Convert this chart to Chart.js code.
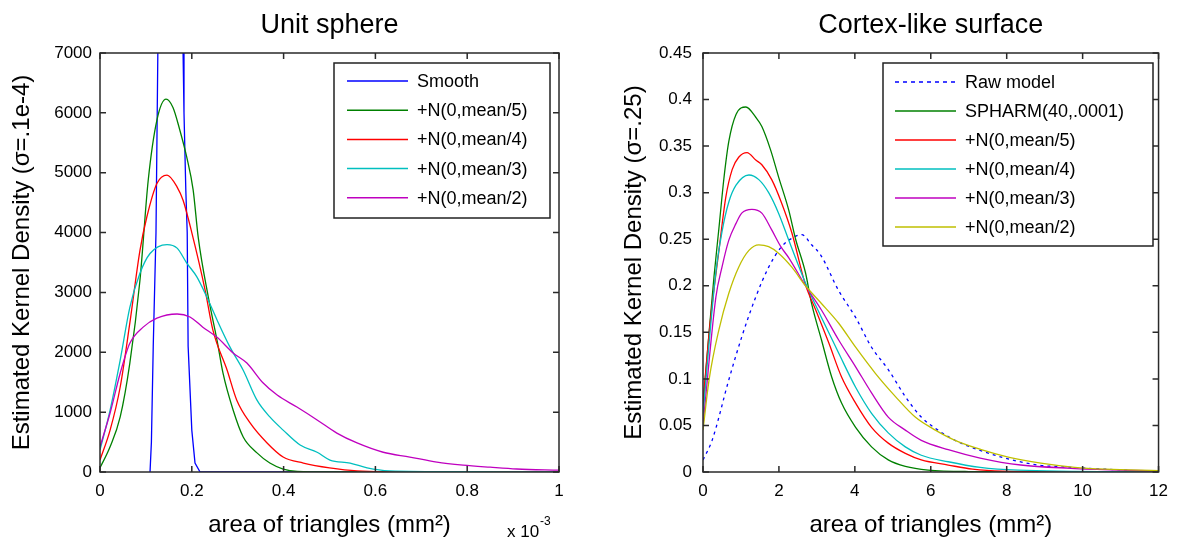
<!DOCTYPE html>
<html>
<head>
<meta charset="utf-8">
<script src="https://cdn.jsdelivr.net/npm/chart.js@4.4.0/dist/chart.umd.min.js"></script>
<style>
    html, body { margin: 0; padding: 0; background: #fff; }
    #wrap { position: relative; width: 1177px; height: 540px; overflow: hidden; }
    #sphereChart { position: absolute; left: 0; top: 0; }
    #cortexChart { position: absolute; left: 590px; top: 0; }
</style>
</head>
<body>
<div id="wrap">
    <canvas id="sphereChart" width="590" height="540"></canvas>
    <canvas id="cortexChart" width="587" height="540"></canvas>
</div>
<script>
// ---- Unit sphere (x in units of 1e-3 mm^2) ----
const sphereTitle = 'Unit sphere';
const sphereYTitle = 'Estimated Kernel Density (σ=.1e-4)';
const sphereLabels = ['Smooth', '+N(0,mean/5)', '+N(0,mean/4)', '+N(0,mean/3)', '+N(0,mean/2)'];

const smoothX = [0.109, 0.112, 0.116, 0.122, 0.126, 0.15, 0.181, 0.183, 0.187, 0.19, 0.192, 0.2, 0.207, 0.218, 0.3, 0.4, 0.56];
const smoothY = [0, 500, 2100, 4000, 7000, 16000, 7000, 6000, 4700, 4000, 2100, 700, 150, 0, 0, 0, 0];

const sMean5X = [0, 0.022, 0.044, 0.065, 0.087, 0.105, 0.124, 0.144, 0.159, 0.174, 0.189, 0.203, 0.214, 0.236, 0.255, 0.268, 0.29, 0.312, 0.342, 0.37, 0.399, 0.43, 0.5, 0.7, 1.0];
const sMean5Y = [70, 420, 920, 1820, 3200, 4870, 5880, 6230, 6090, 5710, 5260, 4710, 3920, 2920, 2200, 1650, 1035, 585, 320, 150, 50, 10, 0, 0, 0];

const sMean4X = [0, 0.022, 0.044, 0.065, 0.087, 0.102, 0.124, 0.146, 0.168, 0.181, 0.2, 0.229, 0.246, 0.277, 0.298, 0.327, 0.364, 0.399, 0.443, 0.5, 0.56, 0.7, 1.0];
const sMean4Y = [200, 700, 1420, 2490, 3700, 4260, 4820, 4960, 4760, 4540, 4000, 3040, 2370, 1700, 1200, 820, 485, 250, 150, 70, 20, 0, 0];

const sMean3X = [0, 0.022, 0.044, 0.065, 0.087, 0.109, 0.146, 0.168, 0.189, 0.211, 0.233, 0.255, 0.283, 0.312, 0.342, 0.37, 0.399, 0.436, 0.473, 0.501, 0.545, 0.582, 0.63, 0.8, 1.0];
const sMean3Y = [370, 1035, 1870, 2750, 3320, 3650, 3800, 3740, 3490, 3260, 2920, 2540, 2090, 1700, 1200, 920, 700, 450, 330, 200, 150, 70, 20, 5, 0];

const sMean2X = [0, 0.022, 0.044, 0.065, 0.094, 0.124, 0.168, 0.196, 0.224, 0.255, 0.29, 0.32, 0.355, 0.386, 0.429, 0.473, 0.516, 0.56, 0.617, 0.675, 0.734, 0.791, 0.85, 0.908, 1.0];
const sMean2Y = [420, 985, 1650, 2150, 2420, 2570, 2640, 2590, 2420, 2250, 1990, 1820, 1490, 1285, 1085, 870, 650, 485, 330, 250, 165, 115, 80, 50, 30];

const sphereXTicks = [0, 0.2, 0.4, 0.6, 0.8, 1];
const sphereYTicks = [0, 1000, 2000, 3000, 4000, 5000, 6000, 7000];

// ---- Cortex-like surface ----
const cortexTitle = 'Cortex-like surface';
const cortexYTitle = 'Estimated Kernel Density (σ=.25)';
const cortexLabels = ['Raw model', 'SPHARM(40,.0001)', '+N(0,mean/5)', '+N(0,mean/4)', '+N(0,mean/3)', '+N(0,mean/2)'];

const rawX = [0, 0.24, 0.68, 1.02, 1.39, 1.73, 2.07, 2.34, 2.6, 2.86, 3.1, 3.57, 4.02, 4.44, 4.88, 5.33, 5.75, 6.19, 6.64, 7.24, 7.95, 8.82, 9.69, 10.6, 11.2];
const rawY = [0.013, 0.034, 0.099, 0.145, 0.188, 0.22, 0.242, 0.251, 0.255, 0.244, 0.233, 0.195, 0.166, 0.134, 0.11, 0.081, 0.059, 0.045, 0.034, 0.024, 0.015, 0.0075, 0.005, 0.003, 0.002];

const spharmX = [0, 0.16, 0.29, 0.42, 0.55, 0.68, 0.87, 1.13, 1.39, 1.55, 1.78, 1.99, 2.26, 2.44, 2.7, 2.86, 3.12, 3.39, 3.65, 4.02, 4.44, 4.88, 5.33, 5.93, 7, 12];
const spharmY = [0.07, 0.15, 0.21, 0.262, 0.315, 0.355, 0.384, 0.392, 0.381, 0.371, 0.346, 0.317, 0.281, 0.25, 0.214, 0.181, 0.142, 0.102, 0.074, 0.048, 0.027, 0.013, 0.006, 0.002, 0.0005, 0];

const cMean5X = [0, 0.2, 0.42, 0.6, 0.77, 0.94, 1.16, 1.39, 1.55, 1.81, 2.07, 2.34, 2.7, 2.97, 3.31, 3.65, 4.02, 4.44, 4.88, 5.33, 5.75, 6.46, 7.1, 7.9, 12];
const cMean5Y = [0.075, 0.165, 0.238, 0.295, 0.325, 0.338, 0.343, 0.335, 0.33, 0.314, 0.289, 0.257, 0.201, 0.174, 0.139, 0.102, 0.074, 0.048, 0.031, 0.02, 0.013, 0.0075, 0.003, 0.001, 0];

const cMean4X = [0, 0.1, 0.34, 0.5, 0.68, 0.87, 1.21, 1.47, 1.73, 1.99, 2.26, 2.7, 3.12, 3.57, 4.02, 4.44, 4.88, 5.33, 5.75, 6.46, 7.3, 8.3, 12];
const cMean4Y = [0.06, 0.11, 0.215, 0.258, 0.29, 0.308, 0.319, 0.314, 0.3, 0.278, 0.249, 0.203, 0.166, 0.128, 0.091, 0.063, 0.042, 0.027, 0.018, 0.011, 0.005, 0.002, 0];

const cMean3X = [0, 0.34, 0.5, 0.68, 0.87, 1.02, 1.29, 1.55, 1.81, 2.05, 2.26, 2.7, 3.12, 3.57, 4.02, 4.44, 4.88, 5.33, 5.75, 6.46, 7.3, 8.37, 9.69, 11, 12];
const cMean3Y = [0.05, 0.188, 0.22, 0.249, 0.267, 0.278, 0.282, 0.278, 0.26, 0.242, 0.23, 0.2, 0.174, 0.142, 0.113, 0.085, 0.059, 0.045, 0.034, 0.024, 0.015, 0.0075, 0.004, 0.002, 0.001];

const cMean2X = [0, 0.16, 0.42, 0.68, 0.94, 1.21, 1.47, 1.73, 1.99, 2.34, 2.7, 3.12, 3.57, 4.02, 4.54, 5.07, 5.59, 6.12, 6.64, 7.33, 8.04, 8.9, 9.79, 10.6, 12];
const cMean2Y = [0.045, 0.099, 0.153, 0.192, 0.22, 0.238, 0.244, 0.242, 0.235, 0.22, 0.2, 0.181, 0.16, 0.134, 0.106, 0.081, 0.059, 0.045, 0.034, 0.024, 0.016, 0.0095, 0.005, 0.003, 0.0015];

const cortexXTicks = [0, 2, 4, 6, 8, 10, 12];
const cortexYTicks = [0, 0.05, 0.1, 0.15, 0.2, 0.25, 0.3, 0.35, 0.4, 0.45];

const xTitle = 'area of triangles (mm²)';
const FONT = '"Liberation Sans", Arial, Helvetica, sans-serif';

function toPoints(xs, ys) {
    return xs.map((x, i) => ({ x: x, y: ys[i] }));
}

function makeSet(label, xs, ys, color, extra) {
    return Object.assign({
        label: label,
        data: toPoints(xs, ys),
        borderColor: color,
        backgroundColor: color,
        borderWidth: 1.3,
        pointRadius: 0,
        fill: false,
        cubicInterpolationMode: 'monotone'
    }, extra || {});
}

// Box with inward ticks on all four sides, MATLAB style
const frameTicks = {
    id: 'frameTicks',
    afterDatasetsDraw(chart) {
        const { ctx, chartArea: a, scales: { x, y } } = chart;
        ctx.save();
        ctx.strokeStyle = '#2a2a2a';
        ctx.lineWidth = 1.5;
        ctx.beginPath();
        x.ticks.forEach(t => {
            const px = x.getPixelForValue(t.value);
            ctx.moveTo(px, a.bottom); ctx.lineTo(px, a.bottom - 6);
            ctx.moveTo(px, a.top); ctx.lineTo(px, a.top + 6);
        });
        y.ticks.forEach(t => {
            const py = y.getPixelForValue(t.value);
            ctx.moveTo(a.left, py); ctx.lineTo(a.left + 6, py);
            ctx.moveTo(a.right, py); ctx.lineTo(a.right - 6, py);
        });
        ctx.stroke();
        ctx.strokeRect(a.left, a.top, a.right - a.left, a.bottom - a.top);
        ctx.restore();
    }
};

const plotTitle = {
    id: 'plotTitle',
    afterDraw(chart, args, opts) {
        const { ctx, chartArea: a } = chart;
        ctx.save();
        ctx.fillStyle = '#000';
        ctx.font = '27px ' + FONT;
        ctx.textAlign = 'center';
        ctx.textBaseline = 'alphabetic';
        ctx.fillText(opts.text, (a.left + a.right) / 2, 33);
        if (opts.exponent) {
            ctx.textAlign = 'left';
            ctx.font = '17px ' + FONT;
            ctx.fillText('x 10', opts.exponent.x, opts.exponent.y);
            ctx.font = '12px ' + FONT;
            ctx.fillText('-3', opts.exponent.x + 33, opts.exponent.y - 12);
        }
        ctx.restore();
    }
};

const boxLegend = {
    id: 'boxLegend',
    afterDraw(chart, args, opts) {
        const { ctx } = chart;
        ctx.save();
        ctx.fillStyle = '#fff';
        ctx.fillRect(opts.left, opts.top, opts.width, opts.height);
        ctx.strokeStyle = '#222';
        ctx.lineWidth = 1.5;
        ctx.strokeRect(opts.left, opts.top, opts.width, opts.height);
        ctx.font = '18px ' + FONT;
        ctx.textBaseline = 'middle';
        ctx.textAlign = 'left';
        chart.data.datasets.forEach((ds, i) => {
            const y = opts.firstRow + i * opts.rowGap;
            ctx.strokeStyle = ds.borderColor;
            ctx.lineWidth = 1.5;
            ctx.setLineDash(ds.borderDash ? [4, 4] : []);
            ctx.beginPath();
            ctx.moveTo(opts.lineX, y);
            ctx.lineTo(opts.lineX + 61, y);
            ctx.stroke();
            ctx.setLineDash([]);
            ctx.fillStyle = '#000';
            ctx.fillText(ds.label, opts.lineX + 70, y + 1);
        });
        ctx.restore();
    }
};

function tickText(v) {
    return String(+Number(v).toFixed(4));
}

function buildChart(canvas, cfg) {
    return new Chart(canvas, {
        type: 'line',
        data: { datasets: cfg.datasets },
        options: {
            responsive: false,
            animation: false,
            layout: { padding: { left: 0, right: cfg.padRight, top: 53, bottom: 0 } },
            plugins: {
                legend: { display: false },
                tooltip: { enabled: false },
                plotTitle: { text: cfg.title, exponent: cfg.exponent },
                boxLegend: cfg.legend
            },
            scales: {
                x: {
                    type: 'linear',
                    min: cfg.xTicks[0],
                    max: cfg.xTicks[cfg.xTicks.length - 1],
                    afterBuildTicks: s => { s.ticks = cfg.xTicks.map(v => ({ value: v })); },
                    afterFit: s => { s.height = 540 - cfg.bottom; },
                    grid: { display: false, drawTicks: false },
                    border: { display: false },
                    ticks: { color: '#000', padding: 9, font: { size: 17, family: FONT }, maxRotation: 0, callback: tickText },
                    title: { display: true, text: xTitle, color: '#000', font: { size: 24, family: FONT }, padding: { top: 0, bottom: 0 } }
                },
                y: {
                    type: 'linear',
                    min: cfg.yTicks[0],
                    max: cfg.yTicks[cfg.yTicks.length - 1],
                    afterBuildTicks: s => { s.ticks = cfg.yTicks.map(v => ({ value: v })); },
                    afterFit: s => { s.width = cfg.left; },
                    grid: { display: false, drawTicks: false },
                    border: { display: false },
                    ticks: { color: '#000', padding: cfg.yTickPad, font: { size: 17, family: FONT }, callback: tickText },
                    title: { display: true, text: cfg.yTitle, color: '#000', font: { size: 24, family: FONT }, padding: { top: cfg.yTitlePad, bottom: 0 } }
                }
            }
        },
        plugins: [frameTicks, plotTitle, boxLegend]
    });
}

const sphereSets = [
    makeSet(sphereLabels[0], smoothX, smoothY, '#0000ff', { cubicInterpolationMode: 'default', tension: 0 }),
    makeSet(sphereLabels[1], sMean5X, sMean5Y, '#008000'),
    makeSet(sphereLabels[2], sMean4X, sMean4Y, '#ff0000'),
    makeSet(sphereLabels[3], sMean3X, sMean3Y, '#00bfbf'),
    makeSet(sphereLabels[4], sMean2X, sMean2Y, '#bf00bf')
];
sphereSets.forEach((ds, i) => { ds.order = sphereSets.length - i; });

buildChart(document.getElementById('sphereChart'), {
    datasets: sphereSets,
    title: sphereTitle,
    yTitle: sphereYTitle,
    xTicks: sphereXTicks,
    yTicks: sphereYTicks,
    left: 100,
    padRight: 31,
    bottom: 472,
    yTickPad: 8,
    yTitlePad: 8,
    exponent: { x: 507, y: 537 },
    legend: { left: 334, top: 63, width: 216, height: 155, lineX: 347, firstRow: 81, rowGap: 29.2 }
});

const cortexSets = [
    makeSet(cortexLabels[0], rawX, rawY, '#0000ff', { borderDash: [3, 4] }),
    makeSet(cortexLabels[1], spharmX, spharmY, '#008000'),
    makeSet(cortexLabels[2], cMean5X, cMean5Y, '#ff0000'),
    makeSet(cortexLabels[3], cMean4X, cMean4Y, '#00bfbf'),
    makeSet(cortexLabels[4], cMean3X, cMean3Y, '#bf00bf'),
    makeSet(cortexLabels[5], cMean2X, cMean2Y, '#bfbf00')
];
cortexSets.forEach((ds, i) => { ds.order = cortexSets.length - i; });

buildChart(document.getElementById('cortexChart'), {
    datasets: cortexSets,
    title: cortexTitle,
    yTitle: cortexYTitle,
    xTicks: cortexXTicks,
    yTicks: cortexYTicks,
    left: 113,
    padRight: 17,
    bottom: 472,
    yTickPad: 11,
    yTitlePad: 30,
    legend: { left: 293, top: 63, width: 270, height: 183, lineX: 305, firstRow: 82, rowGap: 29 }
});
</script>
</body>
</html>
